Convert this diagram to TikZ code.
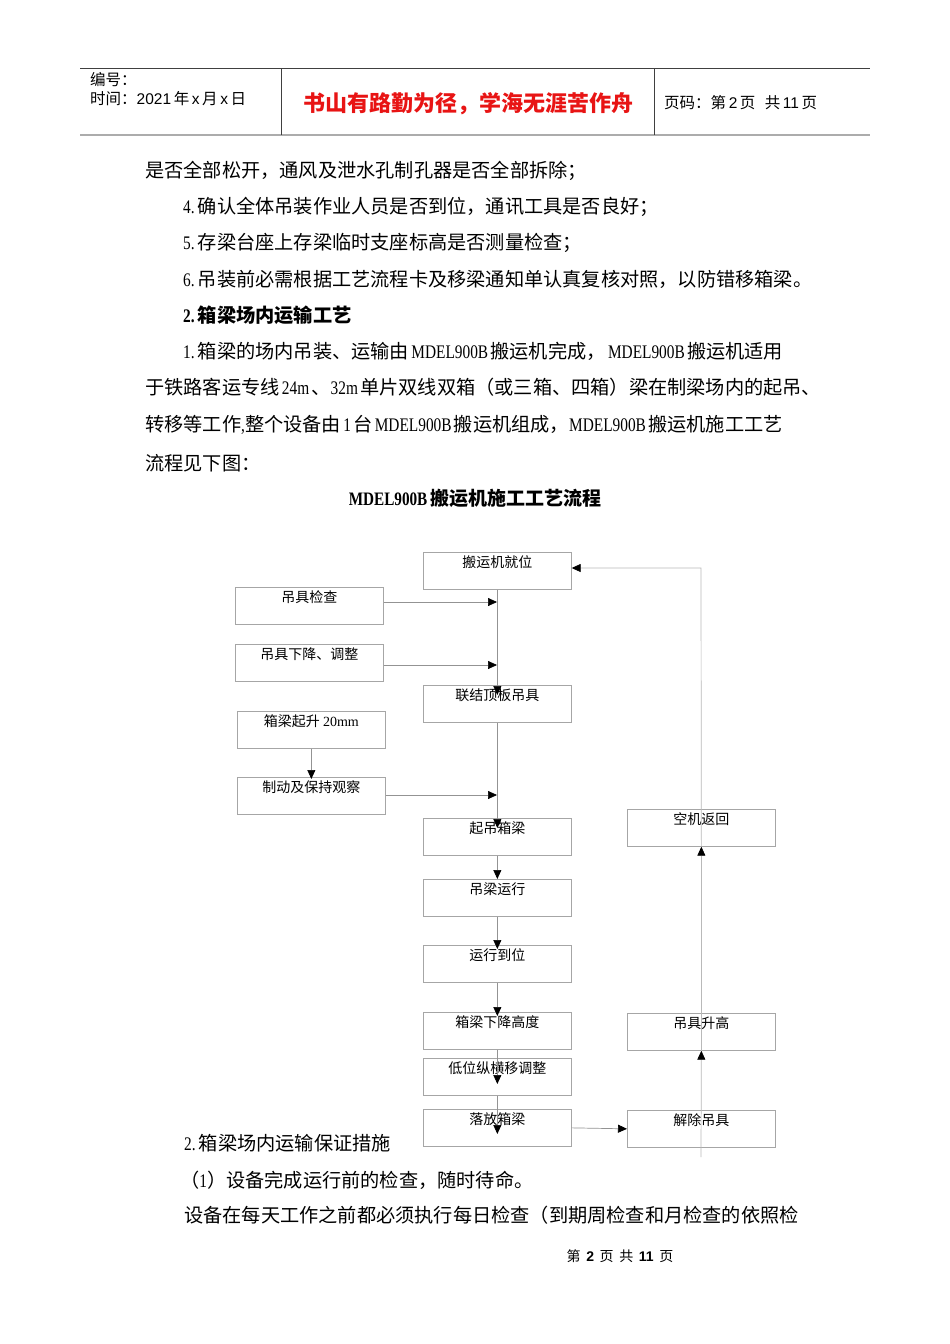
\documentclass[tikz,border=0pt]{standalone}
\usepackage{fontspec}
\setmainfont{Noto Sans CJK SC}
\newfontfamily\hw[FakeStretch=0.8]{Liberation Serif}
\newfontfamily\arl{Liberation Sans}
\newfontfamily\tnr{Liberation Serif}
\usetikzlibrary{arrows.meta,calc}
\definecolor{hdred}{RGB}{232,20,20}
\newcommand\lat[1]{\hspace{0.12em}{\hw #1}\hspace{0.12em}}
\begin{document}
\begin{tikzpicture}[x=1pt,y=-1pt,
  body/.style={anchor=west, inner sep=0pt, font=\fontsize{19.2}{19.2}\selectfont},
  fbox/.style={draw=gray!70, line width=0.7pt, minimum width=148pt, minimum height=37pt,
    inner sep=0pt, anchor=north west, text height=15pt, text depth=22pt,
    font=\fontsize{14}{14}\selectfont},
  ln/.style={draw=gray!85, line width=0.7pt},
  arr/.style={ln, -{Triangle[length=9pt,width=8pt,color=black]}}]
\fill[white] (0,0) rectangle (950,1344);
\useasboundingbox (0,0) rectangle (950,1344);

% header
\draw[gray!50!black, line width=0.8pt] (80,68) -- (870,68);
\draw[gray!65, line width=2pt] (80,135) -- (870,135);
\draw[gray!50!black, line width=0.8pt] (281,68) -- (281,135);
\draw[gray!50!black, line width=0.8pt] (654,68) -- (654,135);
\node[anchor=west, inner sep=0pt, font=\fontsize{15.5}{15.5}\selectfont] (hno) at (90,80) {编号：};
\node[anchor=west, inner sep=0pt, font=\fontsize{15.5}{15.5}\selectfont] (htime) at (90,99) {时间：{\arl 2021}\,年\,{\arl x}\,月\,{\arl x}\,日};
\node[inner sep=0pt, text=hdred, font=\fontsize{22}{22}\selectfont\bfseries] (hmotto) at (468,104) {书山有路勤为径，学海无涯苦作舟};
\node[anchor=west, inner sep=0pt, font=\fontsize{15.5}{15.5}\selectfont] (hpage) at (664,103) {页码：第\,{\arl 2}\,页\hspace{0.6em}共\,{\arl 11}\,页};

% body text
\node[body] (p1) at (145,171) {是否全部松开，通风及泄水孔制孔器是否全部拆除；};
\node[body] (p2) at (183,207) {{\hw 4.}\,确认全体吊装作业人员是否到位，通讯工具是否良好；};
\node[body] (p3) at (183,243) {{\hw 5.}\,存梁台座上存梁临时支座标高是否测量检查；};
\node[body] (p4) at (183,279) {{\hw 6.}\,吊装前必需根据工艺流程卡及移梁通知单认真复核对照，以防错移箱梁。};
\node[body, font=\fontsize{19.2}{19.2}\selectfont\bfseries] (p5) at (183,315) {{\hw\bfseries 2.}\,箱梁场内运输工艺};
\node[body] (p6) at (183,351) {{\hw 1.}\,箱梁的场内吊装、运输由\lat{MDEL900B}搬运机完成，\lat{MDEL900B}搬运机适用};
\node[body] (p7) at (145,387) {于铁路客运专线\lat{24m}、{\hw 32m}\hspace{0.12em}单片双线双箱（或三箱、四箱）梁在制梁场内的起吊、};
\node[body] (p8) at (145,425) {转移等工作{\hw ,}整个设备由\lat{1}台\lat{MDEL900B}搬运机组成，{\hw MDEL900B}\hspace{0.12em}搬运机施工工艺};
\node[body] (p9) at (145,463) {流程见下图：};
\node[inner sep=0pt, font=\fontsize{19}{19}\selectfont\bfseries] (title) at (475,498) {{\hw\bfseries MDEL900B}\hspace{0.15em}搬运机施工工艺流程};

% flowchart boxes
\node[fbox] (a1) at (423,552) {搬运机就位};
\node[fbox] (a2) at (423,685) {联结顶板吊具};
\node[fbox] (a3) at (423,818) {起吊箱梁};
\node[fbox] (a4) at (423,879) {吊梁运行};
\node[fbox] (a5) at (423,945) {运行到位};
\node[fbox] (a6) at (423,1012) {箱梁下降高度};
\node[fbox] (a7) at (423,1058) {低位纵横移调整};
\node[fbox] (a8) at (423,1109) {落放箱梁};
\node[fbox] (b1) at (235,587) {吊具检查};
\node[fbox] (b2) at (235,644) {吊具下降、调整};
\node[fbox] (c1) at (237,711) {箱梁起升 {\tnr 20mm}};
\node[fbox] (c2) at (237,777) {制动及保持观察};
\node[fbox] (r1) at (627,809) {空机返回};
\node[fbox] (r2) at (627,1013) {吊具升高};
\node[fbox] (r3) at (627,1110) {解除吊具};

% trunk joins
\coordinate (t1) at (497,602);
\coordinate (t2) at (497,665);
\coordinate (t3) at (497,795);
\draw[arr] (b1.east |- t1) -- (t1);
\draw[arr] (b2.east |- t2) -- (t2);
\draw[arr] (c2.east |- t3) -- (t3);

% main column
\draw[arr] (a1.south) -- ($(a2.north)+(0,10)$);
\draw[arr] (a2.south) -- ($(a3.north)+(0,10)$);
\draw[arr] (a3.south) -- (a4.north);
\draw[arr] (a4.south) -- ($(a5.north)+(0,4)$);
\draw[arr] (a5.south) -- ($(a6.north)+(0,4)$);
\draw[arr] (a6.south) -- ($(a7.north)+(0,26)$);
\draw[arr] (a7.south) -- ($(a8.north)+(0,25)$);
\draw[arr] (c1.south) -- ($(c2.north)+(0,2)$);
\draw[arr] (a8.east) -- (r3.west);

% return loop
\coordinate (rb) at (701,1157);
\coordinate (rt) at (701,568);
\draw[arr, draw=gray!55] (rb) -- (r2.south);
\draw[arr, draw=gray!55] (r2.south) -- (r1.south);
\draw[arr, draw=gray!55] (r1.south) -- (rt) -- (a1.east |- rt);

% after chart
\node[body] (q1) at (184,1143) {{\hw 2.}\,箱梁场内运输保证措施};
\node[body] (q2) at (180,1180) {（{\hw 1}）设备完成运行前的检查，随时待命。};
\node[body] (q3) at (184,1215) {设备在每天工作之前都必须执行每日检查（到期周检查和月检查的依照检};
\node[inner sep=0pt, font=\fontsize{14}{14}\selectfont] (foot) at (620,1256) {第\hspace{0.4em}{\arl\bfseries 2}\hspace{0.4em}页\hspace{0.4em}共\hspace{0.4em}{\arl\bfseries 11}\hspace{0.4em}页};
\end{tikzpicture}
\end{document}
